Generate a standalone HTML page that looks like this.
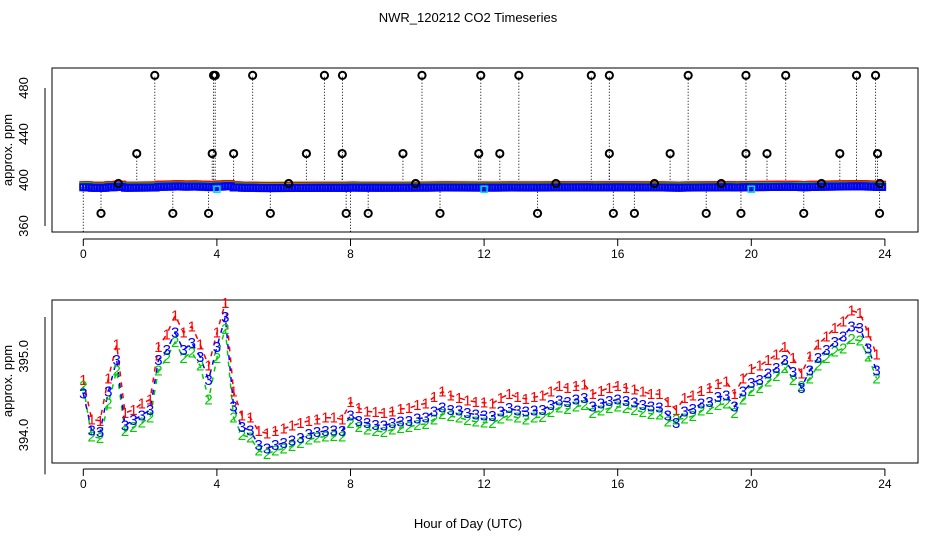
<!DOCTYPE html>
<html><head><meta charset="utf-8">
<style>
html,body{margin:0;padding:0;background:#fff;}
svg{display:block;font-family:"Liberation Sans",sans-serif;}
</style></head>
<body>
<svg id="chart" width="936" height="540" viewBox="0 0 936 540" xmlns="http://www.w3.org/2000/svg">
<rect width="936" height="540" fill="#fff"/>
<text x="468" y="22" font-size="13" text-anchor="middle">NWR_120212  CO2 Timeseries</text>
<text x="468" y="528" font-size="13" text-anchor="middle">Hour of Day (UTC)</text>
<g id="topPanel"></g>
<g id="botPanel"></g>
</svg>
<script>
const blue=[394.53,394.06,394.04,394.55,394.95,394.12,394.19,394.25,394.32,394.95,
395.08,395.30,395.08,395.17,394.99,394.70,395.12,395.50,394.36,394.10,
394.06,393.87,393.83,393.87,393.90,393.93,393.96,394.01,394.04,394.05,
394.06,394.05,394.25,394.18,394.15,394.13,394.12,394.15,394.17,394.18,
394.21,394.22,394.30,394.35,394.32,394.31,394.28,394.26,394.25,394.24,
394.30,394.34,394.31,394.30,394.31,394.32,394.38,394.44,394.42,394.45,
394.47,394.36,394.40,394.43,394.45,394.43,394.41,394.38,394.36,394.35,
394.25,394.15,394.30,394.33,394.40,394.42,394.48,394.50,394.36,394.55,
394.66,394.70,394.78,394.85,394.95,394.80,394.60,394.82,394.98,395.08,
395.18,395.25,395.38,395.36,395.10,394.82];
const red=[394.70,394.20,394.18,394.72,395.15,394.28,394.32,394.40,394.45,395.12,
395.28,395.52,395.30,395.38,395.15,394.88,395.30,395.68,394.55,394.25,
394.22,394.05,394.02,394.05,394.08,394.12,394.15,394.18,394.20,394.22,
394.22,394.20,394.42,394.34,394.30,394.29,394.28,394.30,394.33,394.34,
394.38,394.40,394.48,394.55,394.50,394.47,394.44,394.42,394.41,394.40,
394.47,394.52,394.48,394.46,394.48,394.50,394.55,394.62,394.60,394.62,
394.64,394.52,394.56,394.60,394.62,394.60,394.58,394.55,394.52,394.52,
394.42,394.32,394.47,394.50,394.56,394.60,394.65,394.68,394.52,394.72,
394.84,394.88,394.95,395.02,395.12,394.98,394.78,395.00,395.15,395.25,
395.36,395.44,395.58,395.55,395.30,395.02];
const green=[394.62,393.98,393.96,394.40,394.82,394.05,394.10,394.16,394.22,394.82,
394.98,395.18,394.98,395.05,394.88,394.45,394.98,395.35,394.22,394.00,
393.97,393.80,393.76,393.80,393.83,393.86,393.90,393.94,393.97,393.98,
393.99,393.98,394.15,394.10,394.07,394.05,394.04,394.07,394.09,394.10,
394.13,394.14,394.20,394.27,394.24,394.22,394.19,394.17,394.16,394.15,
394.21,394.25,394.22,394.20,394.22,394.23,394.29,394.35,394.33,394.36,
394.38,394.28,394.31,394.34,394.36,394.34,394.32,394.29,394.27,394.26,
394.17,394.20,394.21,394.24,394.31,394.33,394.38,394.40,394.28,394.45,
394.56,394.60,394.68,394.75,394.85,394.70,394.62,394.72,394.88,394.98,
395.06,395.10,395.22,395.20,395.00,394.72];
const hourStep=0.25;
const spikeHours=[2.14,3.90,3.95,5.07,7.22,7.76,10.14,11.90,13.04,15.21,15.75,18.11,19.84,21.03,23.15,23.72,
1.60,3.86,4.50,6.68,7.75,9.57,11.84,12.47,15.75,17.57,19.84,20.47,22.65,23.78,
0.53,2.68,3.75,5.60,7.87,8.53,10.68,13.60,15.87,16.50,18.65,19.69,21.57,23.84,
1.05,6.15,9.95,14.15,17.10,19.1,22.1,23.85];
const spikeValues=[491,491,491,491,491,491,491,491,491,491,491,491,491,491,491,491,
423,423,423,423,423,423,423,423,423,423,423,423,423,423,
371,371,371,371,371,371,371,371,371,371,371,371,371,371,
397,397,397,397,397,397,397,397];
const dropHours=[0,8.0];
const dropValues=[345,345];
const xTicks=[0,4,8,12,16,20,24];
const topTicks=[360,400,440,480];
const topMinor=[380,420,460];
const botTicks=[394.0,395.0];
const botMinor=[393.5,394.5,395.5];

const NS="http://www.w3.org/2000/svg";
function mk(p,tag,attrs){const e=document.createElementNS(NS,tag);for(const k in attrs)e.setAttribute(k,attrs[k]);p.appendChild(e);return e;}
const L=52,R=918;
const xs=h=>83.3+h*33.4;
const hours=blue.map((_,i)=>i*hourStep);

// TOP PANEL
const topG=document.getElementById('topPanel');
const yt=v=>180-(v-400)*1.15;
const tb=mk(topG,'rect',{x:L,y:68,width:R-L,height:164,fill:'none',stroke:'#000','stroke-width':1});


const clip=mk(topG,'clipPath',{id:'tc'});mk(clip,'rect',{x:L,y:68,width:R-L,height:164});
const tg=mk(topG,'g',{'clip-path':'url(#tc)'});
dropHours.forEach((h,i)=>{
  const l=mk(tg,'line',{x1:xs(h),x2:xs(h),y1:yt(395),y2:yt(dropValues[i]),stroke:'#000','stroke-dasharray':'1,2'});
  
  
});
spikeHours.forEach((h,i)=>{
  const l=mk(tg,'line',{x1:xs(h),x2:xs(h),y1:yt(395),y2:yt(spikeValues[i]),stroke:'#000','stroke-dasharray':'1,2'});
  
  
});
[[red,'#f00'],[green,'#0c0'],[blue,'#00f']].forEach(([arr,c],si)=>{
  arr.forEach((v,i)=>{
    for(let k=0;k<3;k++){
      const s=mk(tg,'rect',{x:xs(hours[i]+k*0.083)-3,y:yt(v)-3+(si-1),width:6,height:6,fill:'none',stroke:c,'stroke-width':2});
      
      
    }
  });
});
[4,12,20].forEach(h=>{const s=mk(tg,'rect',{x:xs(h)-3,y:yt(392)-3,width:6,height:6,fill:'none',stroke:'#0dd','stroke-width':1.5});

});
spikeHours.forEach((h,i)=>{
  const c=mk(tg,'circle',{cx:xs(h),cy:yt(spikeValues[i]),r:3.6,fill:'none',stroke:'#000','stroke-width':2});
  
  
});
xTicks.forEach(t=>{
  mk(topG,'line',{x1:xs(t),x2:xs(t),y1:239,y2:246,stroke:'#000'});
  const tx=mk(topG,'text',{x:xs(t),y:258,'font-size':12,'text-anchor':'middle'});tx.textContent=t;
  
  
});
mk(topG,'line',{x1:xs(0),x2:xs(24),y1:239,y2:239,stroke:'#000'});
topTicks.concat(topMinor).forEach(t=>{mk(topG,'line',{x1:45,x2:L-7,y1:yt(t),y2:yt(t),stroke:'#000'});});
mk(topG,'line',{x1:45,x2:45,y1:yt(360),y2:yt(480),stroke:'#000'});
topTicks.forEach(t=>{
  const tx=mk(topG,'text',{x:28,y:yt(t),'font-size':13,'text-anchor':'middle',transform:`rotate(-90 28 ${yt(t)})`});tx.textContent=t;
  
  
});
const ytl=mk(topG,'text',{x:12,y:150,'font-size':13,'text-anchor':'middle',transform:'rotate(-90 12 150)'});ytl.textContent='approx. ppm';



// BOTTOM PANEL
const botG=document.getElementById('botPanel');
const yb=v=>435-(v-394)*78.7;
const bb=mk(botG,'rect',{x:L,y:300,width:R-L,height:163,fill:'none',stroke:'#000','stroke-width':1});


[[red,'#f00','1'],[green,'#0c0','2'],[blue,'#00f','3']].forEach(([arr,c,ch])=>{
  const pts=arr.map((v,i)=>xs(hours[i]).toFixed(1)+','+yb(v).toFixed(1)).join(' ');
  const pl=mk(botG,'polyline',{points:pts,fill:'none',stroke:c,'stroke-width':1.5,'stroke-dasharray':'5,6'});
  
  
});
[[red,'#f00','1'],[green,'#0c0','2'],[blue,'#00f','3']].forEach(([arr,c,ch])=>{
  arr.forEach((v,i)=>{
    const tx=mk(botG,'text',{x:xs(hours[i]),y:yb(v)+5,'font-size':15,fill:c,'text-anchor':'middle'});
    tx.textContent=ch;
    
    
  });
});
xTicks.forEach(t=>{
  mk(botG,'line',{x1:xs(t),x2:xs(t),y1:469,y2:476,stroke:'#000'});
  const tx=mk(botG,'text',{x:xs(t),y:488,'font-size':12,'text-anchor':'middle'});tx.textContent=t;
  
  
});
mk(botG,'line',{x1:xs(0),x2:xs(24),y1:469,y2:469,stroke:'#000'});
botTicks.concat(botMinor).forEach(t=>{mk(botG,'line',{x1:45,x2:L-7,y1:yb(t),y2:yb(t),stroke:'#000'});});
mk(botG,'line',{x1:45,x2:45,y1:yb(393.5),y2:yb(395.5),stroke:'#000'});
botTicks.forEach(t=>{
  const tx=mk(botG,'text',{x:28,y:yb(t),'font-size':13,'text-anchor':'middle',transform:`rotate(-90 28 ${yb(t)})`});tx.textContent=t.toFixed(1);
  
  
});
const ybl=mk(botG,'text',{x:12,y:381,'font-size':13,'text-anchor':'middle',transform:'rotate(-90 12 381)'});ybl.textContent='approx. ppm';


</script>
</body></html>
